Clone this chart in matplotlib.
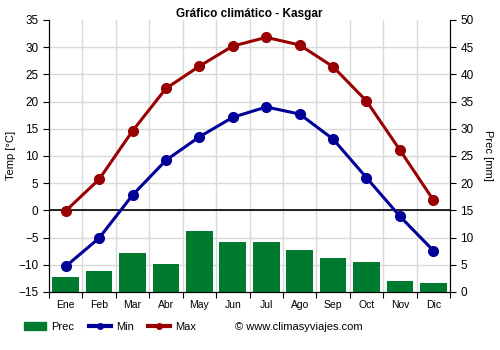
import numpy as np
import matplotlib.pyplot as plt
from matplotlib.patches import Patch
from matplotlib.lines import Line2D

plt.rcParams["font.family"] = ["Liberation Sans", "DejaVu Sans"]

months = ["Ene", "Feb", "Mar", "Abr", "May", "Jun", "Jul", "Ago", "Sep", "Oct", "Nov", "Dic"]
t_min = [-10.3, -5.1, 2.8, 9.2, 13.5, 17.1, 19.0, 17.7, 13.1, 6.0, -1.1, -7.4]
t_max = [-0.1, 5.7, 14.6, 22.4, 26.5, 30.2, 31.8, 30.4, 26.4, 20.1, 11.1, 1.9]
prec = [2.8, 3.8, 7.2, 5.2, 11.2, 9.2, 9.2, 7.7, 6.3, 5.5, 2.0, 1.7]

green = "#007a2f"
blue = "#000099"
red = "#990000"

fig = plt.figure(figsize=(5, 3.5), dpi=100)
ax = fig.add_axes([0.098, 0.166, 0.802, 0.777])
ax2 = ax.twinx()

x = np.arange(12) + 0.5

# precipitation on the right axis, behind the temperature lines
ax2.bar(x, prec, width=0.8, color=green, zorder=2)
ax2.set_xlim(0, 12)
ax2.set_ylim(0, 50)
ax2.set_yticks(range(0, 51, 5))
ax2.set_ylabel("Prec [mm]", fontsize=8, rotation=270, va="center")
ax2.yaxis.set_label_coords(1.095, 0.5)

# grid on the back axes so it sits under the bars
for xv in range(1, 12):
    ax2.axvline(xv, color="#d9d9d9", lw=1, zorder=1)
for yv in range(5, 50, 5):
    ax2.axhline(yv, color="#d9d9d9", lw=1, zorder=1)

ax.set_zorder(ax2.get_zorder() + 1)
ax.patch.set_visible(False)

ax.plot(x, t_min, color=blue, lw=2.2, marker="o", ms=7, zorder=4)
ax.plot(x, t_max, color=red, lw=2.2, marker="o", ms=7, zorder=4)
ax.axhline(0, color="black", lw=1.2, zorder=3)

ax.set_xlim(0, 12)
ax.set_ylim(-15, 35)
ax.set_yticks(range(-15, 36, 5))
ax.set_xticks(np.arange(13))
ax.set_xticklabels([])
ax.set_xticks(x, minor=True)
ax.set_xticklabels(months, minor=True)
ax.tick_params(axis="x", which="minor", length=0, labelsize=7.5, pad=6)
ax.tick_params(axis="x", which="major", length=4)
ax.tick_params(axis="y", labelsize=8.5, length=4)
ax2.tick_params(axis="y", labelsize=8.5, length=4)
ax.set_ylabel("Temp [°C]", fontsize=8, va="center")
ax.yaxis.set_label_coords(-0.095, 0.5)

for a in (ax, ax2):
    a.spines["top"].set_visible(False)

ax.set_title("Gráfico climático - Kasgar", fontsize=8.5, fontweight="bold", pad=0)

handles = [
    Patch(color=green, label="Prec"),
    Line2D([], [], color=blue, lw=3, marker="o", ms=4, label="Min"),
    Line2D([], [], color=red, lw=3, marker="o", ms=4, label="Max"),
]
fig.legend(handles=handles, loc="center left", bbox_to_anchor=(0.048, 0.066), ncol=3,
           frameon=False, fontsize=8, handlelength=2.0, columnspacing=1.3, handletextpad=0.45,
           borderpad=0, borderaxespad=0)
fig.text(0.47, 0.066, "© www.climasyviajes.com", fontsize=8, va="center", ha="left")

fig.savefig("out.png", dpi=100)
